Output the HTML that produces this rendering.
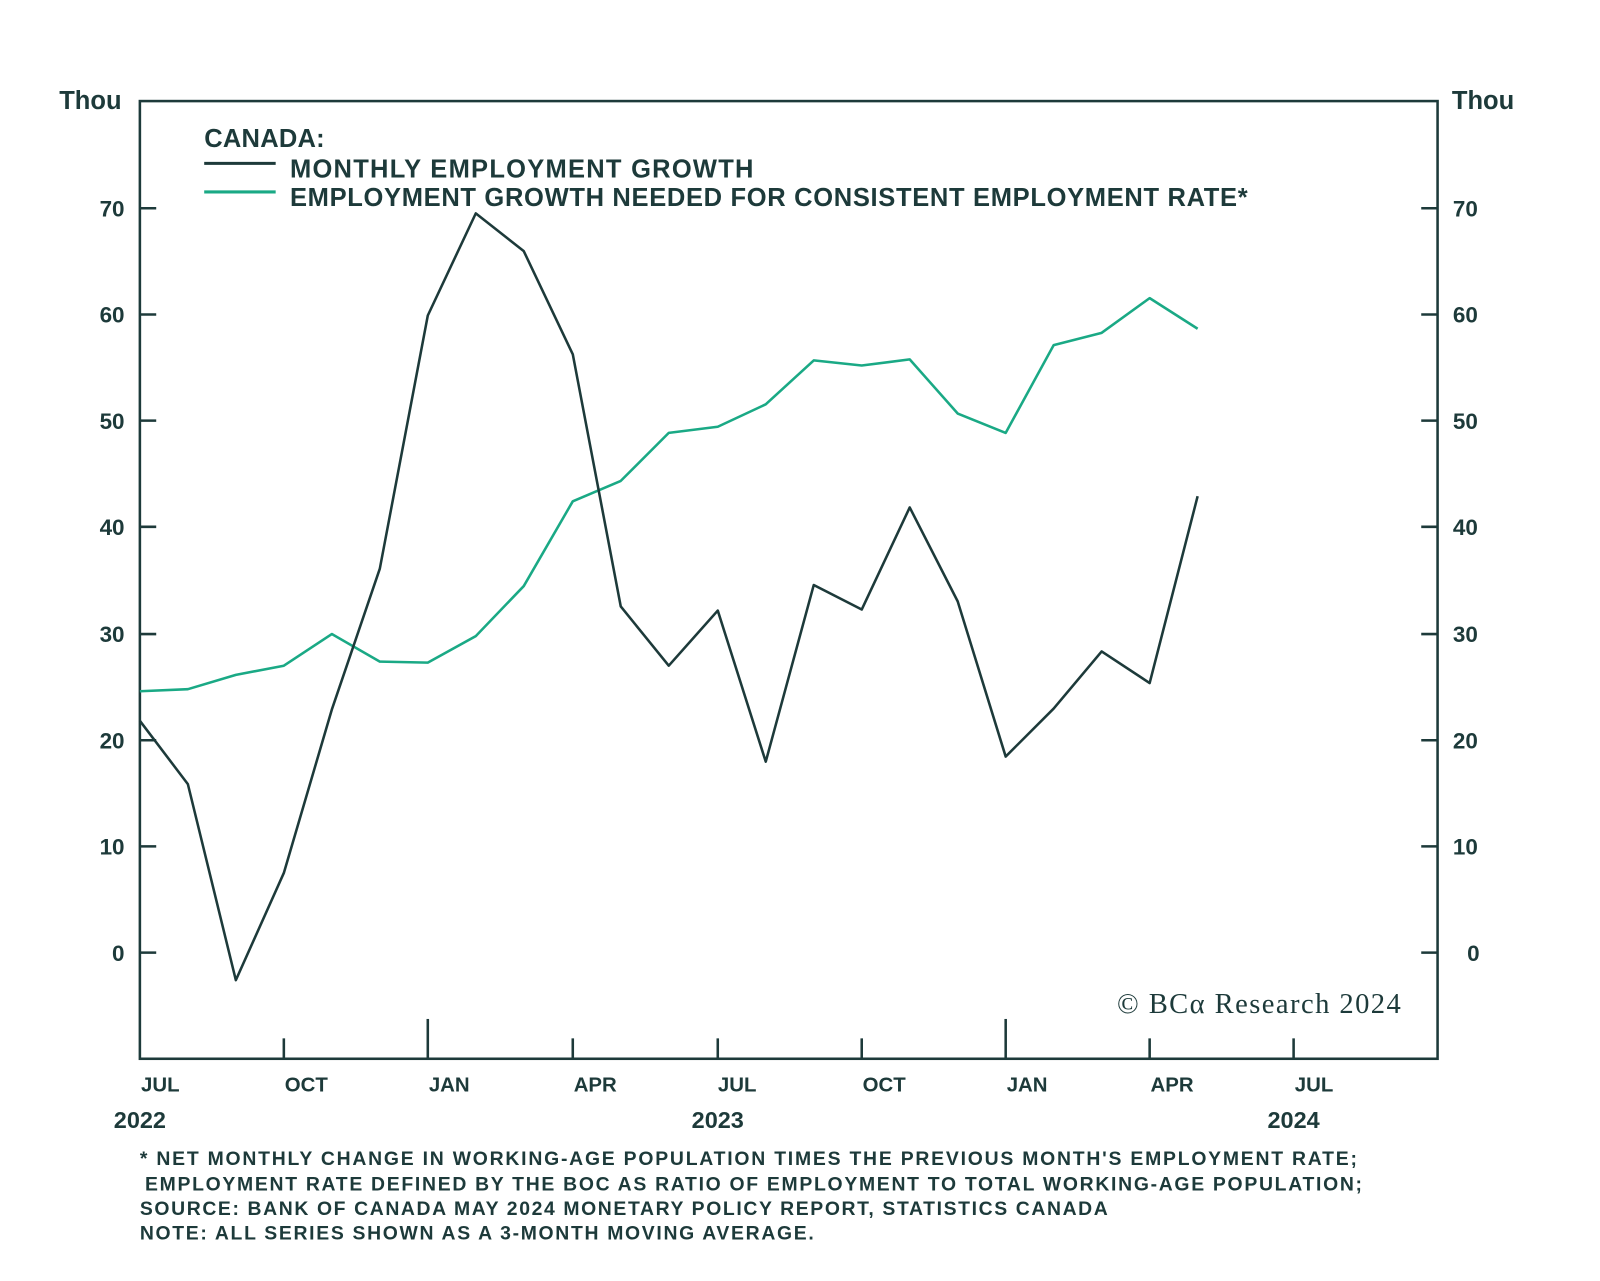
<!DOCTYPE html>
<html><head><meta charset="utf-8"><style>
html,body{margin:0;padding:0;background:#fff;}
svg{display:block;}
text{font-family:"Liberation Sans",sans-serif;font-weight:bold;fill:#1d3a3a;}
</style></head><body>
<svg width="1600" height="1281" viewBox="0 0 1600 1281" xmlns="http://www.w3.org/2000/svg">
<rect width="1600" height="1281" fill="#fff"/>
<g transform="scale(1.021)">
<rect x="137" y="99" width="1271" height="938" fill="none" stroke="#1d3a3a" stroke-width="2.5"/>
<g stroke="#1d3a3a" stroke-width="2.5">
<line x1="137" y1="204" x2="153" y2="204"/><line x1="137" y1="308" x2="153" y2="308"/><line x1="137" y1="412" x2="153" y2="412"/><line x1="137" y1="516" x2="153" y2="516"/><line x1="137" y1="621" x2="153" y2="621"/><line x1="137" y1="725" x2="153" y2="725"/><line x1="137" y1="829" x2="153" y2="829"/><line x1="137" y1="933" x2="153" y2="933"/>
<line x1="1392" y1="204" x2="1408" y2="204"/><line x1="1392" y1="308" x2="1408" y2="308"/><line x1="1392" y1="412" x2="1408" y2="412"/><line x1="1392" y1="516" x2="1408" y2="516"/><line x1="1392" y1="621" x2="1408" y2="621"/><line x1="1392" y1="725" x2="1408" y2="725"/><line x1="1392" y1="829" x2="1408" y2="829"/><line x1="1392" y1="933" x2="1408" y2="933"/>
<line x1="278" y1="1017" x2="278" y2="1037"/><line x1="419" y1="998" x2="419" y2="1037"/><line x1="561" y1="1017" x2="561" y2="1037"/><line x1="703" y1="1017" x2="703" y2="1037"/><line x1="844" y1="1017" x2="844" y2="1037"/><line x1="985" y1="998" x2="985" y2="1037"/><line x1="1126" y1="1017" x2="1126" y2="1037"/><line x1="1267" y1="1017" x2="1267" y2="1037"/>
</g>
<g font-size="22" text-anchor="end">
<text x="122" y="212">70</text><text x="122" y="316">60</text><text x="122" y="420">50</text><text x="122" y="524">40</text><text x="122" y="629">30</text><text x="122" y="733">20</text><text x="122" y="837">10</text><text x="122" y="941">0</text>
</g>
<g font-size="22" text-anchor="start">
<text x="1423" y="212">70</text><text x="1423" y="316">60</text><text x="1423" y="420">50</text><text x="1423" y="524">40</text><text x="1423" y="629">30</text><text x="1423" y="733">20</text><text x="1423" y="837">10</text><text x="1437" y="941">0</text>
</g>
<text x="58" y="107" font-size="25">Thou</text>
<text x="1422" y="107" font-size="25">Thou</text>
<g font-size="20" text-anchor="middle">
<text x="157" y="1069">JUL</text><text x="300" y="1069">OCT</text><text x="440" y="1069">JAN</text><text x="583" y="1069">APR</text><text x="722" y="1069">JUL</text><text x="866" y="1069">OCT</text><text x="1006" y="1069">JAN</text><text x="1148" y="1069">APR</text><text x="1287" y="1069">JUL</text>
</g>
<g font-size="23" text-anchor="middle">
<text x="137" y="1105">2022</text><text x="703" y="1105">2023</text><text x="1267" y="1105">2024</text>
</g>
<text x="200" y="144" font-size="25" textLength="118">CANADA:</text>
<line x1="200" y1="160" x2="270" y2="160" stroke="#1d3a3a" stroke-width="3"/>
<line x1="200" y1="188" x2="270" y2="188" stroke="#1aa985" stroke-width="3"/>
<text x="284" y="174" font-size="25" textLength="454">MONTHLY EMPLOYMENT GROWTH</text>
<text x="284" y="202" font-size="25" textLength="938">EMPLOYMENT GROWTH NEEDED FOR CONSISTENT EMPLOYMENT RATE*</text>
<polyline fill="none" stroke="#1aa985" stroke-width="2.5" stroke-linejoin="round" points="137,677 184,675 231,661 278,652 325,621 372,648 419,649 466,623 513,574 561,491 608,471 655,424 703,418 750,396 797,353 844,358 891,352 938,405 985,424 1032,338 1079,326 1126,292 1173,322"/>
<polyline fill="none" stroke="#1d3a3a" stroke-width="2.5" stroke-linejoin="round" points="137,706 184,768 231,960 278,855 325,695 372,557 419,309 466,209 513,246 561,347 608,594 655,652 703,598 750,746 797,573 844,597 891,497 938,589 985,741 1032,694 1079,638 1126,669 1173,486"/>
<text x="1372" y="992" font-size="28" text-anchor="end" textLength="278" style="font-family:'Liberation Serif',serif;font-weight:normal">© BCα Research 2024</text>
<g font-size="19">
<text x="137" y="1141" textLength="1192">* NET MONTHLY CHANGE IN WORKING-AGE POPULATION TIMES THE PREVIOUS MONTH'S EMPLOYMENT RATE;</text>
<text x="142" y="1166" textLength="1192">EMPLOYMENT RATE DEFINED BY THE BOC AS RATIO OF EMPLOYMENT TO TOTAL WORKING-AGE POPULATION;</text>
<text x="137" y="1190" textLength="948">SOURCE: BANK OF CANADA MAY 2024 MONETARY POLICY REPORT, STATISTICS CANADA</text>
<text x="137" y="1214" textLength="660">NOTE: ALL SERIES SHOWN AS A 3-MONTH MOVING AVERAGE.</text>
</g>
</g>
</svg>
</body></html>
